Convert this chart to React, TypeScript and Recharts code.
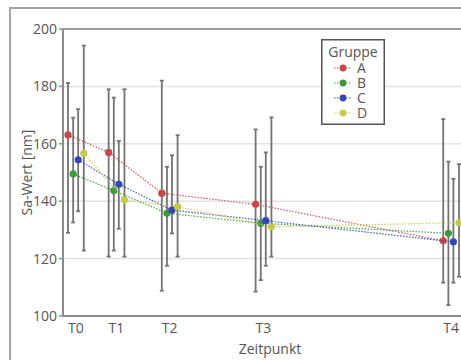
import React from 'react';
import { ScatterChart, Scatter, XAxis, YAxis, CartesianGrid, ErrorBar, ReferenceLine } from 'recharts';

// Zeitpunkte (numerische Lage auf der Zeitachse) und ihre Beschriftungen
const timepoints = [0, 1.3, 3, 6, 12];
const tickLabels = ['T0', 'T1', 'T2', 'T3', 'T4'];
const groupNames = ['A', 'B', 'C', 'D'];
const yTicks = [100, 120, 140, 160, 180, 200];

// Gruppe A
const meanA = [163.1, 157.0, 142.8, 138.9, 126.2];
const upperA = [181.2, 179.0, 182.0, 165.0, 168.6];
const lowerA = [129.0, 120.7, 108.8, 108.5, 111.6];
// Gruppe B
const meanB = [149.5, 143.7, 135.8, 132.3, 128.8];
const upperB = [169.1, 176.1, 152.0, 152.0, 153.8];
const lowerB = [132.6, 122.8, 117.5, 112.5, 103.8];
// Gruppe C
const meanC = [154.4, 145.9, 136.9, 133.2, 125.8];
const upperC = [172.1, 161.0, 156.0, 157.0, 147.8];
const lowerC = [136.5, 130.4, 128.8, 117.5, 111.6];
// Gruppe D
const meanD = [156.7, 140.4, 138.1, 131.1, 132.5];
const upperD = [194.2, 179.0, 163.0, 169.2, 152.9];
const lowerD = [122.8, 120.7, 120.7, 120.7, 113.7];

const COLORS = ['#c8474a', '#3d9a3d', '#3348b4', '#c4ca4a'];
const DODGE = [-0.25, -0.085, 0.075, 0.255];
const FONT = '"Open Sans", sans-serif';
const AXIS_COLOR = '#8c8c8c';
const TEXT_COLOR = '#555';

function buildSeries(mean: number[], upper: number[], lower: number[], offset: number) {
  return timepoints.map((t, i) => ({
    x: t + offset,
    y: mean[i],
    err: [mean[i] - lower[i], upper[i] - mean[i]],
  }));
}

const seriesData = [
  buildSeries(meanA, upperA, lowerA, DODGE[0]),
  buildSeries(meanB, upperB, lowerB, DODGE[1]),
  buildSeries(meanC, upperC, lowerC, DODGE[2]),
  buildSeries(meanD, upperD, lowerD, DODGE[3]),
];

function LegendBox() {
  return (
    <div style={{ position: 'absolute', left: 321, top: 39, width: 64, height: 86 }}>
      <svg width={64} height={86} style={{ display: 'block' }}>
        <rect x={0.75} y={0.75} width={62.5} height={84.5} fill="#fff" stroke="#555" strokeWidth={1.5} />
        <text x={32} y={18} textAnchor="middle" fontFamily={FONT} fontSize={14} fill={TEXT_COLOR}>Gruppe</text>
        {groupNames.map((g, i) => {
          const cy = 29 + i * 15;
          return (
            <g key={g}>
              <line x1={13} x2={31} y1={cy} y2={cy} stroke={COLORS[i]} strokeWidth={1.2} strokeDasharray="1.5 1.5" />
              <circle cx={22} cy={cy} r={3.4} fill={COLORS[i]} />
              <text x={36} y={cy + 5} fontFamily={FONT} fontSize={14} fill={TEXT_COLOR}>{g}</text>
            </g>
          );
        })}
      </svg>
    </div>
  );
}

export default function App() {
  return (
    <div style={{ position: 'absolute', left: 0, top: 0, width: 461, height: 360, overflow: 'hidden', background: '#fff' }}>
      <div
        style={{
          position: 'absolute',
          left: 9,
          top: 7,
          width: 600,
          height: 400,
          borderLeft: '2px solid #a3a3a3',
          borderTop: '2px solid #a3a3a3',
        }}
      />
      <div style={{ position: 'absolute', left: 0, top: 0 }}>
        <ScatterChart width={520} height={360} margin={{ top: 29, right: 43, bottom: 0, left: 0 }}>
          <CartesianGrid horizontal vertical={false} stroke="#e3e3e3" strokeWidth={1.5} />
          <XAxis
            type="number"
            dataKey="x"
            domain={[-0.41, 12.83]}
            ticks={timepoints}
            interval={0}
            allowDataOverflow
            tickFormatter={(v: number) => {
              const idx = timepoints.indexOf(v);
              return idx >= 0 ? tickLabels[idx] : '';
            }}
            height={44}
            tickSize={0}
            tickMargin={7}
            tickLine={false}
            axisLine={{ stroke: AXIS_COLOR, strokeWidth: 2 }}
            tick={{ fill: TEXT_COLOR, fontSize: 14, fontFamily: FONT }}
            label={{ value: 'Zeitpunkt', position: 'insideBottom', offset: 6, fill: TEXT_COLOR, fontSize: 14, fontFamily: FONT }}
          />
          <YAxis
            type="number"
            dataKey="y"
            domain={[100, 200]}
            ticks={yTicks}
            interval={0}
            allowDataOverflow
            width={63}
            tickSize={4}
            tickMargin={2}
            tickLine={{ stroke: AXIS_COLOR, strokeWidth: 1.5 }}
            axisLine={{ stroke: AXIS_COLOR, strokeWidth: 2 }}
            tick={{ fill: TEXT_COLOR, fontSize: 14, fontFamily: FONT }}
            label={{
              value: 'Sa-Wert [nm]',
              angle: -90,
              position: 'insideLeft',
              offset: 27,
              fill: TEXT_COLOR,
              fontSize: 14,
              fontFamily: FONT,
              style: { textAnchor: 'middle' },
            }}
          />
          <ReferenceLine y={200} stroke="#9a9a9a" strokeWidth={2} />
          {seriesData.map((data, i) => (
            <Scatter
              key={groupNames[i]}
              name={groupNames[i]}
              data={data}
              fill={COLORS[i]}
              isAnimationActive={false}
              line={{ stroke: COLORS[i], strokeWidth: 1.2, strokeDasharray: '1.5 1.5', strokeOpacity: 0.9 }}
              lineType="joint"
              shape={(p: any) => <circle cx={p.cx} cy={p.cy} r={3.6} fill={COLORS[i]} />}
            >
              <ErrorBar dataKey="err" direction="y" width={2} stroke="#737373" strokeWidth={1.8} />
            </Scatter>
          ))}
        </ScatterChart>
      </div>
      <LegendBox />
    </div>
  );
}
